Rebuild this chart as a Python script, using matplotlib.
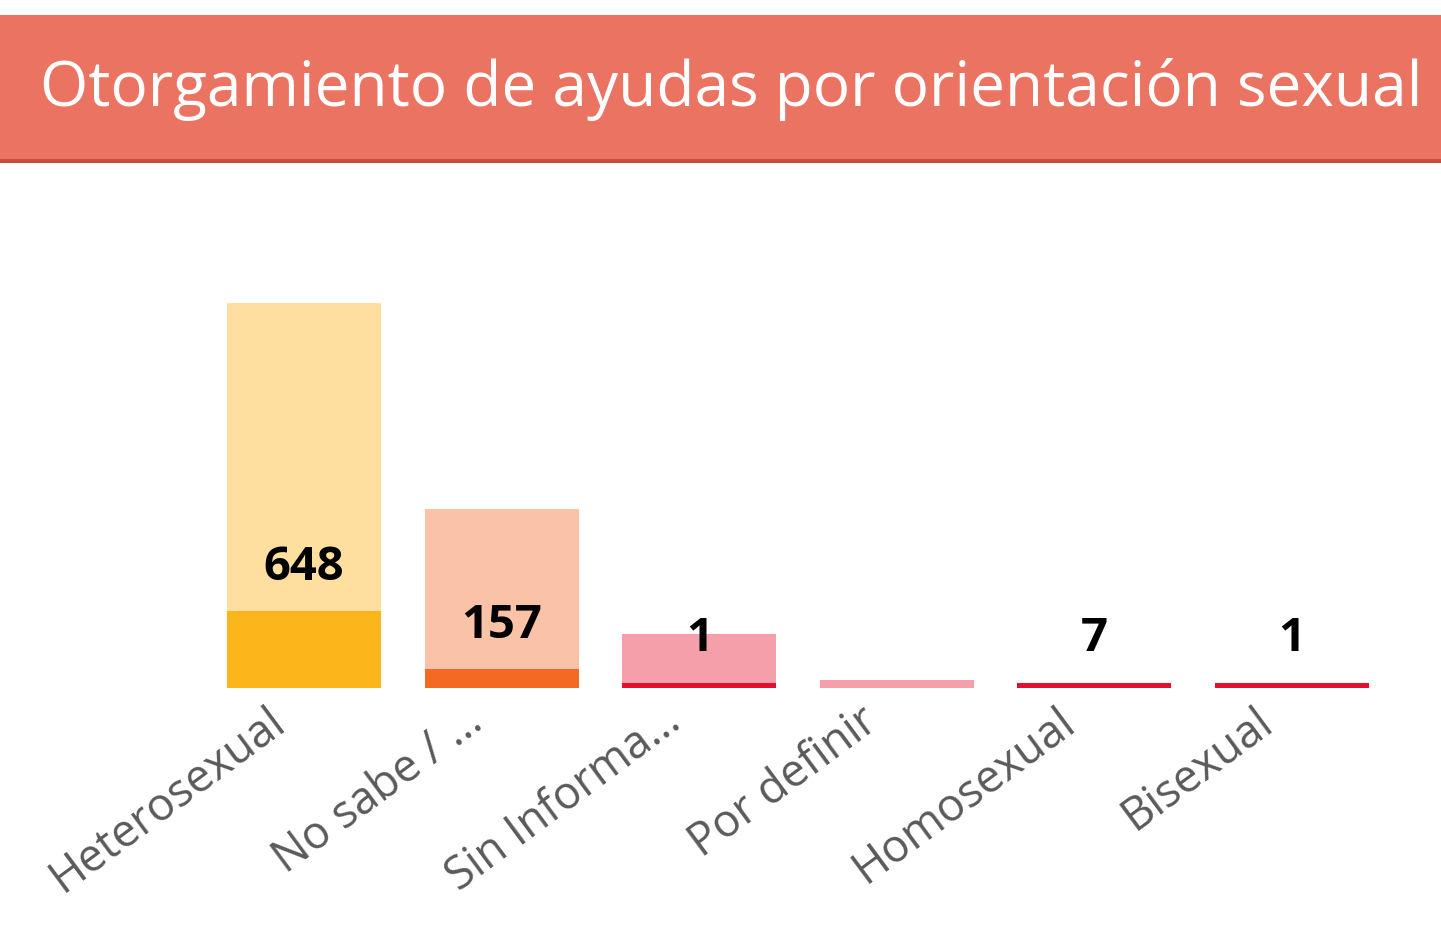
import matplotlib
matplotlib.use("Agg")
import matplotlib.pyplot as plt
from matplotlib.patches import Rectangle
import numpy as np

# ---- data ----
categories = ["Heterosexual", "No sabe / ...", "Sin Informa...", "Por definir", "Homosexual", "Bisexual"]
total_values = [3250, 1510, 450, 60, 28, 6]      # light (background) bars
granted_values = [648, 157, 1, 0, 7, 1]          # dark (foreground) bars, labelled
light_colors = ["#FEDF9F", "#FAC2A6", "#F49FAA", "#F49FAA", "#F49FAA", "#F49FAA"]
dark_colors = ["#FDB51C", "#F46A24", "#E30F2E", "#E30F2E", "#E30F2E", "#E30F2E"]
title = "Otorgamiento de ayudas por orientación sexual"

W, H, DPI = 1441, 941, 100
fig = plt.figure(figsize=(W / DPI, H / DPI), dpi=DPI)
fig.patch.set_facecolor("white")

# banner
fig.patches.append(Rectangle((0, 1 - 159 / H), 1, 144 / H, transform=fig.transFigure,
                             facecolor="#EA7362", edgecolor="none", zorder=0))
fig.patches.append(Rectangle((0, 1 - 163 / H), 1, 4 / H, transform=fig.transFigure,
                             facecolor="#C84B40", edgecolor="none", zorder=0))
t = fig.text(40 / W, 1 - 106 / H, title, color="white", fontsize=46, family="Open Sans",
             ha="left", va="baseline")
renderer = fig.canvas.get_renderer()
wpx = t.get_window_extent(renderer).width
t.set_fontsize(46 * 1382 / wpx)

# axes
left, right = 205.2, 1390.8
base, top = 687.5, 200
ax = fig.add_axes([left / W, 1 - base / H, (right - left) / W, (base - top) / H])
ymax = 4120
ax.set_xlim(-0.5, len(categories) - 0.5)
ax.set_ylim(0, ymax)
for s in ax.spines.values():
    s.set_visible(False)
ax.set_yticks([])
ax.set_xticks([])

x = np.arange(len(categories))
width = 0.78
ax.bar(x, total_values, width=width, color=light_colors, zorder=1)

# dark bars: non-zero values get a minimum visible height (~5 px)
min_vis = 5 * ymax / (base - top)
g = np.array(granted_values, dtype=float)
shown = np.where(g > 0, np.maximum(g, min_vis), 0)
ax.bar(x, shown, width=width, color=dark_colors, zorder=2)

for xi, v, h in zip(x, granted_values, shown):
    if v > 0:
        ax.annotate(f"{v}", xy=(xi, h), xytext=(0, 22.5), textcoords="offset points",
                    ha="center", va="baseline", fontsize=34, family="Open Sans",
                    fontweight="bold", color="black", zorder=3)

# category labels (rotated, right end near bar centre)
for xi, lab in zip(x, categories):
    ax.annotate(lab, xy=(xi, 0), xycoords=("data", "data"),
                xytext=(-27, -8), textcoords="offset points",
                rotation=36.5, rotation_mode="anchor", ha="right", va="top",
                fontsize=32.5, family="Open Sans", color="#5A5A5A",
                annotation_clip=False)

fig.savefig("out.png", dpi=DPI)
